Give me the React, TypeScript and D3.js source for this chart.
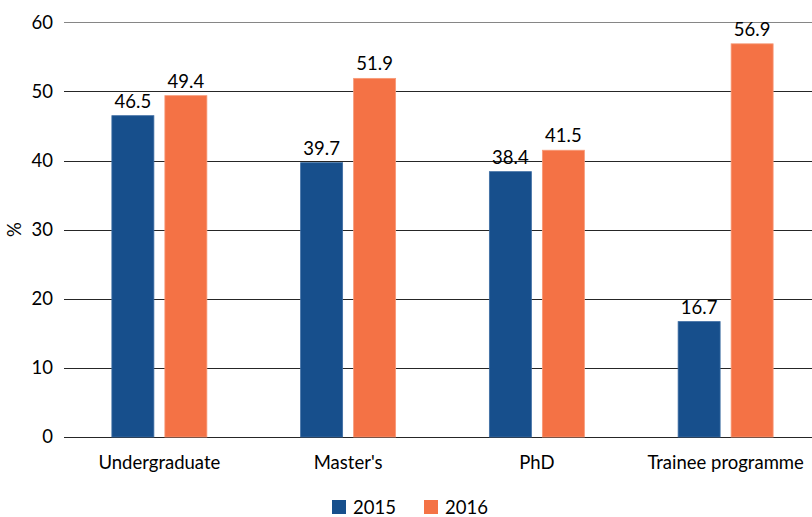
import React from "react";
import * as d3 from "d3";

const categories = ["Undergraduate", "Master's", "PhD", "Trainee programme"];
const seriesNames = ["2015", "2016"];
const values2015 = [46.5, 39.7, 38.4, 16.7];
const values2016 = [49.4, 51.9, 41.5, 56.9];
const yTicks = [0, 10, 20, 30, 40, 50, 60];
const colors = ["#174f8c", "#f47245"];
const strokes = ["#3d6da3", "#f79a78"];

const width = 812;
const height = 517;
const font = "Lato, 'Open Sans', sans-serif";
const fs = 18.5;

const App = () => {
  const seriesValues = [values2015, values2016];

  const y = d3.scaleLinear().domain([0, 60]).range([437, 22.4]);
  const x0 = d3.scaleBand<string>().domain(categories).range([65, 820]);
  const x1 = d3
    .scaleBand<string>()
    .domain(seriesNames)
    .range([-47.5, 47.5])
    .paddingInner(0.2075);

  return (
    <svg
      width={width}
      height={height}
      style={{ position: "absolute", left: 0, top: 0, background: "#fff" }}
    >
      {/* gridlines */}
      {yTicks.map((t) => (
        <g key={t}>
          <line
            x1={64}
            x2={812}
            y1={Math.round(y(t)) + 0.5}
            y2={Math.round(y(t)) + 0.5}
            stroke={t === 60 ? "#868686" : "#262626"}
            strokeWidth={1}
          />
          <text
            x={53}
            y={y(t)}
            dy="0.35em"
            textAnchor="end"
            fontFamily={font}
            fontSize={fs}
            fill="#000"
          >
            {t}
          </text>
        </g>
      ))}

      {/* y title */}
      <text
        transform={`translate(21, ${y(30)}) rotate(-90)`}
        textAnchor="middle"
        fontFamily={font}
        fontSize={fs}
      >
        %
      </text>

      {/* bars */}
      {categories.map((c, i) => {
        const cx = (x0(c) ?? 0) + x0.bandwidth() / 2;
        return (
          <g key={c}>
            {seriesNames.map((s, j) => {
              const v = seriesValues[j][i];
              const bx = cx + (x1(s) ?? 0);
              return (
                <g key={s}>
                  <rect
                    x={bx}
                    y={y(v)}
                    width={x1.bandwidth()}
                    height={y(0) - y(v)}
                    fill={colors[j]}
                    stroke={strokes[j]}
                    strokeWidth={0.8}
                  />
                  <text
                    x={bx + x1.bandwidth() / 2}
                    y={y(v) - 8}
                    textAnchor="middle"
                    fontFamily={font}
                    fontSize={fs}
                  >
                    {v.toFixed(1)}
                  </text>
                </g>
              );
            })}
            <text
              x={cx}
              y={469}
              textAnchor="middle"
              fontFamily={font}
              fontSize={fs}
            >
              {c}
            </text>
          </g>
        );
      })}

      {/* legend */}
      {seriesNames.map((s, j) => (
        <g key={s} transform={`translate(${332 + j * 92}, 500)`}>
          <rect width={14} height={14} fill={colors[j]} />
          <text x={21} y={14} fontFamily={font} fontSize={fs}>
            {s}
          </text>
        </g>
      ))}
    </svg>
  );
};

export default App;
